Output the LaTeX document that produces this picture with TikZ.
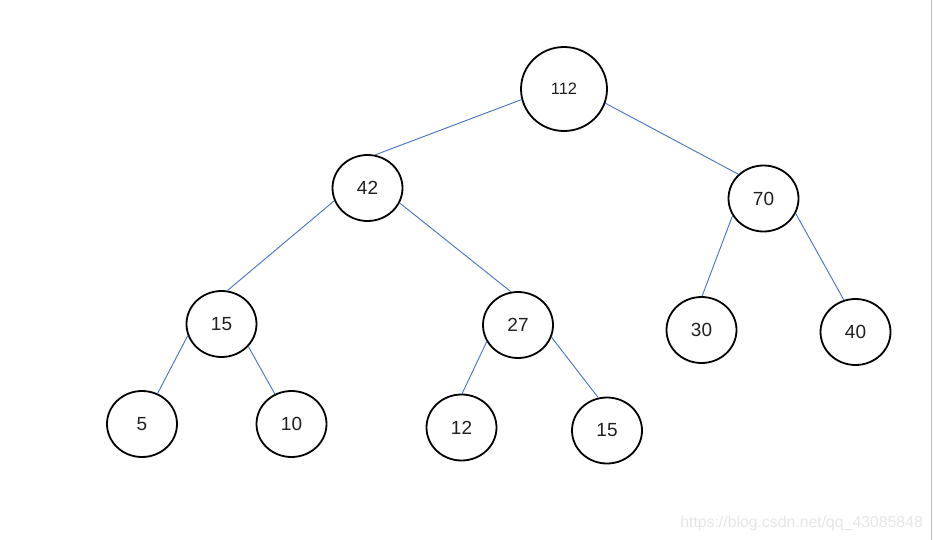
\documentclass[tikz,border=0pt]{standalone}
\usepackage{fontspec}
\setmainfont{Liberation Sans}
\usetikzlibrary{shapes.geometric}
\definecolor{edgeblue}{HTML}{4472C4}
\definecolor{framegray}{HTML}{BDBDBD}
\definecolor{wmgray}{HTML}{E6E6E6}
\definecolor{txtgray}{HTML}{202020}
\tikzset{
  tnode/.style={ellipse, draw=black, line width=1.8pt, fill=white, inner sep=0pt,
    minimum width=70pt, minimum height=66pt, text=txtgray, font=\fontsize{19}{19}\selectfont},
  rootnode/.style={tnode, minimum width=86pt, minimum height=84pt, font=\fontsize{16.5}{16.5}\selectfont},
  tedge/.style={draw=edgeblue, line width=0.9pt}
}
\begin{document}
\begin{tikzpicture}[x=1pt,y=-1pt]
\useasboundingbox (0,0) rectangle (933,540);
\fill[white] (0,0) rectangle (933,540);
\coordinate (ftop) at (931.5,0);
\coordinate (fbot) at (931.5,540);
\draw[framegray, line width=1.2pt] (ftop) -- (fbot);

\node[rootnode] (n112) at (564,89) {112};
\node[tnode] (n42) at (367.5,188) {42};
\node[tnode] (n70) at (763.5,198.5) {70};
\node[tnode] (n15) at (221.5,324) {15};
\node[tnode] (n27) at (518,325) {27};
\node[tnode] (n30) at (701.5,330) {30};
\node[tnode] (n40) at (855.5,332) {40};
\node[tnode] (n5) at (142,424) {5};
\node[tnode] (n10) at (291.5,424) {10};
\node[tnode] (n12) at (461.5,427.5) {12};
\node[tnode] (n15b) at (607,430.5) {15};

\draw[tedge] (n112.194) -- (n42.77);
\draw[tedge] (n112.341) -- (n70.136);
\draw[tedge] (n42.201) -- (n15.80);
\draw[tedge] (n42.335) -- (n27.102);
\draw[tedge] (n15.199) -- (n5.63);
\draw[tedge] (n15.320) -- (n10.119);
\draw[tedge] (n27.208) -- (n12.89);
\draw[tedge] (n27.340) -- (n15b.105);
\draw[tedge] (n70.209) -- (n30.89);
\draw[tedge] (n70.335) -- (n40.110);

\node[anchor=base east, text=wmgray, inner sep=0pt, font=\fontsize{15.8}{15.8}\selectfont] (wm) at (923,527) {https://blog.csdn.net/qq\_43085848};
\end{tikzpicture}
\end{document}
